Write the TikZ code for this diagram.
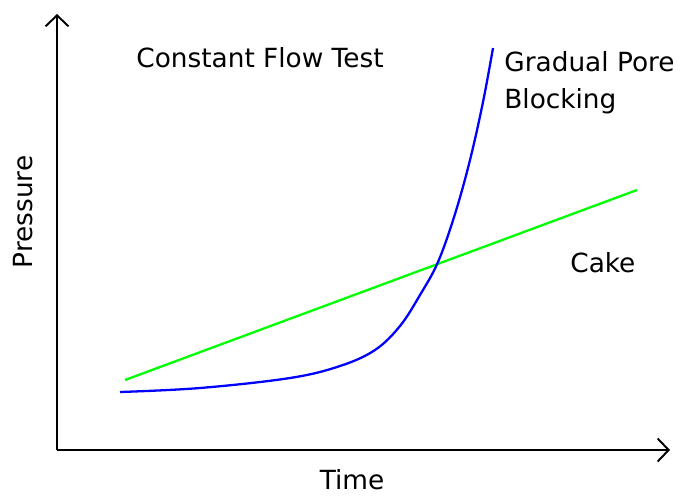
\documentclass[tikz,border=0pt]{standalone}
\usepackage{fontspec}
\setmainfont{DejaVu Sans}
\usetikzlibrary{arrows.meta}

\begin{document}
\begin{tikzpicture}[
        x=0.02cm, y=-0.02cm,
        axis/.style={line width=1.1pt, -{Straight Barb[length=2.2mm, width=4.6mm, line width=1.1pt]}},
        curve/.style={line width=1.3pt},
        lbl/.style={font=\fontsize{15}{18}\selectfont, inner sep=0pt}
    ]
        \useasboundingbox (0,0) rectangle (680,495);

        % Axes
        \coordinate (origin) at (57,450);
        \coordinate (ytop) at (57,14);
        \coordinate (xend) at (670,450);
        \draw[axis] (origin) -- (ytop);
        \draw[axis] (origin) -- (xend);

        % Labels
        \node[lbl] (title) at (260,58) {Constant Flow Test};
        \node[lbl, anchor=west] (gradual) at (504,62) {Gradual Pore};
        \node[lbl, anchor=west] (blocking) at (504,101) {Blocking};
        \node[lbl, anchor=west] (cake) at (570,263) {Cake};
        \node[lbl, rotate=90] (pressure) at (23,212) {Pressure};
        \node[lbl] (time) at (352,480) {Time};

        % Cake curve
        \draw[curve, green] (125,380) -- (637,190);

        % Gradual pore blocking curve
        \draw[curve, blue] plot[smooth, tension=0.6] coordinates {
            (120,392) (200,388) (290,378) (340,366) (375,350) (400,326)
            (420,295) (438,262) (455,214) (470,160) (483,102) (493,48)};
    \end{tikzpicture}
\end{document}
